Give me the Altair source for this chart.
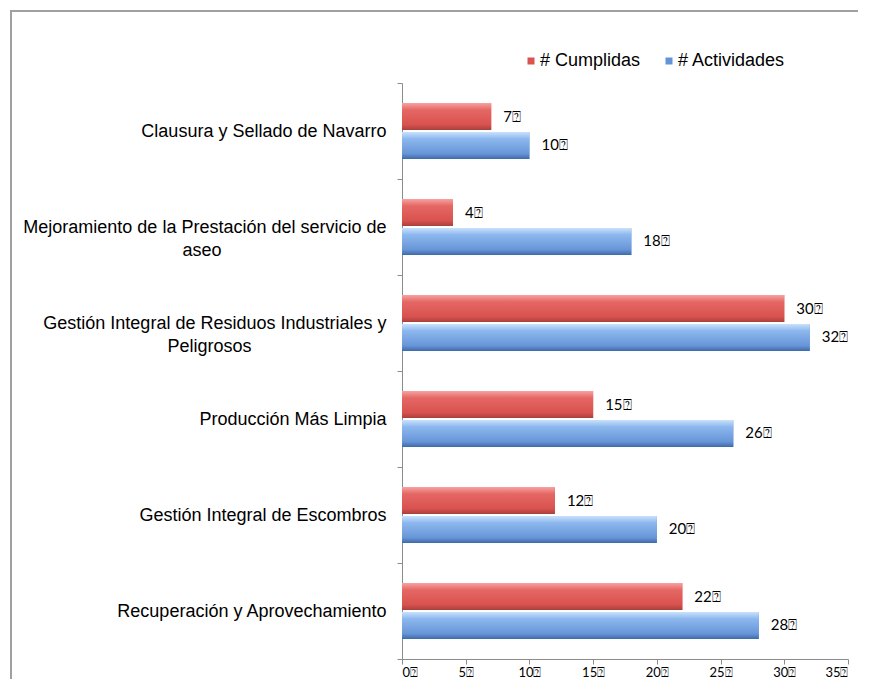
import altair as alt
import pandas as pd

categories = [
    ["Clausura y Sellado de Navarro"],
    ["Mejoramiento de la Prestación del servicio de", "aseo"],
    ["Gestión Integral de Residuos Industriales y", "Peligrosos"],
    ["Producción Más Limpia"],
    ["Gestión Integral de Escombros"],
    ["Recuperación y Aprovechamiento"],
]
series = ["# Cumplidas", "# Actividades"]
cumplidas = [7, 4, 30, 15, 12, 22]
actividades = [10, 18, 32, 26, 20, 28]
x_ticks = [0, 5, 10, 15, 20, 25, 30, 35]
suffix = "\u2370"

# second lines of wrapped labels are centred under the first one with
# non-breaking spaces (a zero-width space at the end keeps them from being trimmed)
pad = {"aseo": 33, "Peligrosos": 27}
cat_labels = []
for lines in categories:
    out = [lines[0]] + [l + "\u00a0" * pad.get(l, 0) + "\u200b" for l in lines[1:]]
    cat_labels.append("|".join(out))

rows = []
for c, a, b in zip(cat_labels, cumplidas, actividades):
    rows.append({"cat": c, "serie": series[0], "val": a, "lab": f"{a}{suffix}"})
    rows.append({"cat": c, "serie": series[1], "val": b, "lab": f"{b}{suffix}"})
df = pd.DataFrame(rows)

red_grad = {"gradient": "linear", "x1": 0, "y1": 0, "x2": 0, "y2": 1,
            "stops": [{"offset": 0, "color": "#f6a3a1"}, {"offset": 0.25, "color": "#e56865"},
                      {"offset": 0.8, "color": "#d8524f"}, {"offset": 1, "color": "#a8403d"}]}
blue_grad = {"gradient": "linear", "x1": 0, "y1": 0, "x2": 0, "y2": 1,
             "stops": [{"offset": 0, "color": "#c9e2fb"}, {"offset": 0.25, "color": "#8db8ee"},
                       {"offset": 0.8, "color": "#6795d8"}, {"offset": 1, "color": "#3f6aa8"}]}

yenc = alt.Y("cat:N", sort=cat_labels,
             scale=alt.Scale(paddingInner=0, paddingOuter=0),
             axis=alt.Axis(title=None, labelExpr="split(datum.label, '|')",
                           labelFont="Liberation Sans", labelFontSize=18, labelColor="#000000",
                           labelLineHeight=23, labelPadding=11, tickBand="extent",
                           tickSize=5, tickColor="#8c8c8c", domainColor="#8c8c8c",
                           labelLimit=420, grid=False))
yoff = alt.YOffset("serie:N", sort=series,
                   scale=alt.Scale(paddingInner=0.069, paddingOuter=0.69))
xenc = alt.X("val:Q", scale=alt.Scale(domain=[0, 35], nice=False),
             axis=alt.Axis(title=None, values=x_ticks, labelExpr=f"datum.label + '{suffix}'",
                           labelFont="Lato", labelFontSize=13, labelColor="#000000",
                           tickSize=5, tickColor="#8c8c8c", domainColor="#8c8c8c",
                           labelPadding=2, grid=False))

base = alt.Chart(df)
bars = base.mark_bar().encode(
    x=xenc, y=yenc, yOffset=yoff,
    color=alt.Color("serie:N", sort=series,
                    scale=alt.Scale(domain=series, range=["#d9534f", "#6393d8"]),
                    legend=alt.Legend(title=None, orient="none", direction="horizontal",
                                      legendX=120, legendY=-31, symbolType="square",
                                      symbolSize=49, symbolStrokeWidth=0,
                                      labelFont="Liberation Sans", labelFontSize=18,
                                      labelColor="#000000", labelOffset=0, columnPadding=19)),
)
red = base.transform_filter(alt.datum.serie == series[0]).mark_bar(fill=red_grad).encode(
    x="val:Q", y=alt.Y("cat:N", sort=cat_labels), yOffset=yoff)
blue = base.transform_filter(alt.datum.serie == series[1]).mark_bar(fill=blue_grad).encode(
    x="val:Q", y=alt.Y("cat:N", sort=cat_labels), yOffset=yoff)
text = base.mark_text(align="left", baseline="middle", dx=12, font="Lato", fontSize=15,
                      color="#000000").encode(
    x="val:Q", y=alt.Y("cat:N", sort=cat_labels), yOffset=yoff, text="lab:N")

one = alt.Data(values=[{"a": 1}])
frame_top = alt.Chart(one).mark_rule(stroke="#a0a0a0", strokeWidth=2).encode(
    x=alt.value(-392), x2=alt.value(520), y=alt.value(-72))
frame_left = alt.Chart(one).mark_rule(stroke="#a0a0a0", strokeWidth=2).encode(
    x=alt.value(-391), y=alt.value(-73), y2=alt.value(700))

chart = alt.layer(bars, red, blue, text, frame_top, frame_left).properties(
    width=446, height=576,
    autosize=alt.AutoSizeParams(type="none"),
    padding={"left": 394, "top": 75, "right": 10, "bottom": 20},
).configure(background="#ffffff").configure_view(stroke=None)

chart.save("out.html", embed_options={"renderer": "svg", "actions": False})
